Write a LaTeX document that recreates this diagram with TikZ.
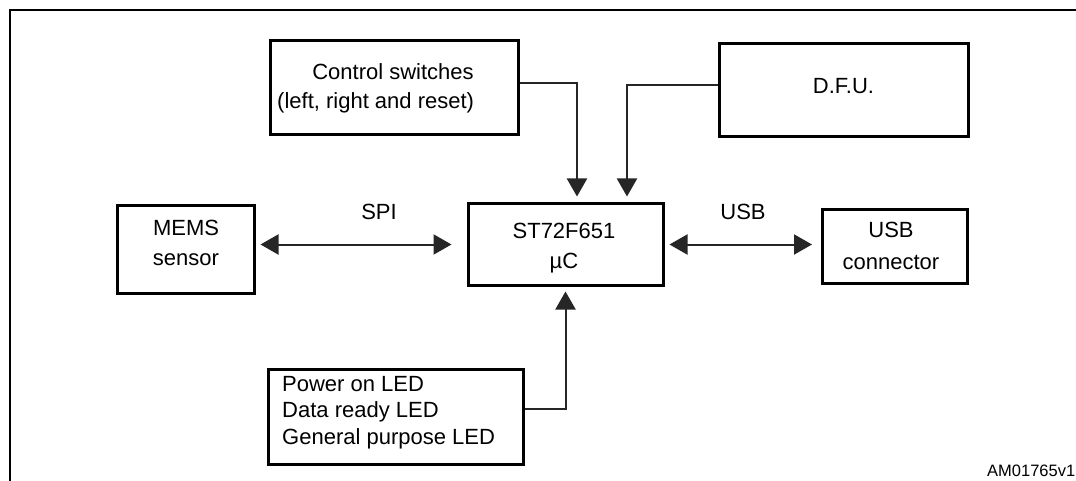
\documentclass[tikz,border=0pt]{standalone}
\usepackage{fontspec}
\setmainfont{Liberation Sans}
\usetikzlibrary{arrows.meta}
\begin{document}
\begin{tikzpicture}[x=1pt,y=-1pt,
  blk/.style={draw=black, line width=3pt, inner sep=0pt},
  txt/.style={inner sep=0pt, font=\fontsize{22}{30}\selectfont, align=center},
  conn/.style={draw=black!85, line width=2pt},
  tip/.style={-{Triangle[length=18pt,width=20pt]}},
  dbl/.style={{Triangle[length=18pt,width=20pt]}-{Triangle[length=18pt,width=20pt]}}]
\useasboundingbox (0,0) rectangle (1076,481);
% frame
\coordinate (frtl) at (10,10);
\coordinate (frtr) at (1076,10);
\coordinate (frbl) at (10,481);
\draw[line width=2.5pt] (frtr) -- (frtl) -- (frbl);
% boxes
\node[blk, minimum width=248pt, minimum height=94pt] (cs) at (394,88) {};
\node[blk, minimum width=249pt, minimum height=93pt] (dfu) at (843.5,90.5) {};
\node[blk, minimum width=137pt, minimum height=87pt] (mems) at (185.5,249.5) {};
\node[blk, minimum width=195pt, minimum height=81pt] (st) at (565.5,244.5) {};
\node[blk, minimum width=145pt, minimum height=73pt] (usb) at (895,246.5) {};
\node[blk, minimum width=255pt, minimum height=95pt] (led) at (395.5,416.5) {};
% texts
\node[txt] (cst1) at (393,72) {Control switches};
\node[txt, anchor=west] (cst2) at (277,103) {(left, right and reset)};
\node[txt] (dfut) at (843.5,86) {D.F.U.};
\node[txt] (memst) at (186,243) {MEMS\\sensor};
\node[txt] (stt) at (564,248) {ST72F651\\µC};
\node[txt, font=\fontsize{22}{32}\selectfont] (usbt) at (891,246) {USB\\connector};
\node[txt, align=left, anchor=west, font=\fontsize{22}{26.5}\selectfont] (ledt) at (282,412.5) {Power on LED\\Data ready LED\\General purpose LED};
\node[txt] (spil) at (379,212) {SPI};
\node[txt] (usbl) at (743,212) {USB};
\node[inner sep=0pt, anchor=west, font=\fontsize{16.5}{20}\selectfont] (am) at (987,471) {AM01765v1};
% connectors
\coordinate (stin1) at ([xshift=11.5pt]st.north);
\coordinate (stin2) at ([xshift=61.5pt]st.north);
\draw[conn, dbl, shorten <=5pt, shorten >=15pt] (mems.east |- st.west) -- (st.west);
\draw[conn, dbl, shorten <=5pt, shorten >=9pt] (st.east) -- (st.east -| usb.west);
\draw[conn, tip, shorten >=6pt] ([yshift=5pt]cs.east) -| (stin1);
\draw[conn, tip, shorten >=6pt] ([yshift=5.5pt]dfu.west) -| (stin2);
\draw[conn, tip, shorten >=5pt] ([yshift=7.5pt]led.east) -| (st.south);
\end{tikzpicture}
\end{document}
